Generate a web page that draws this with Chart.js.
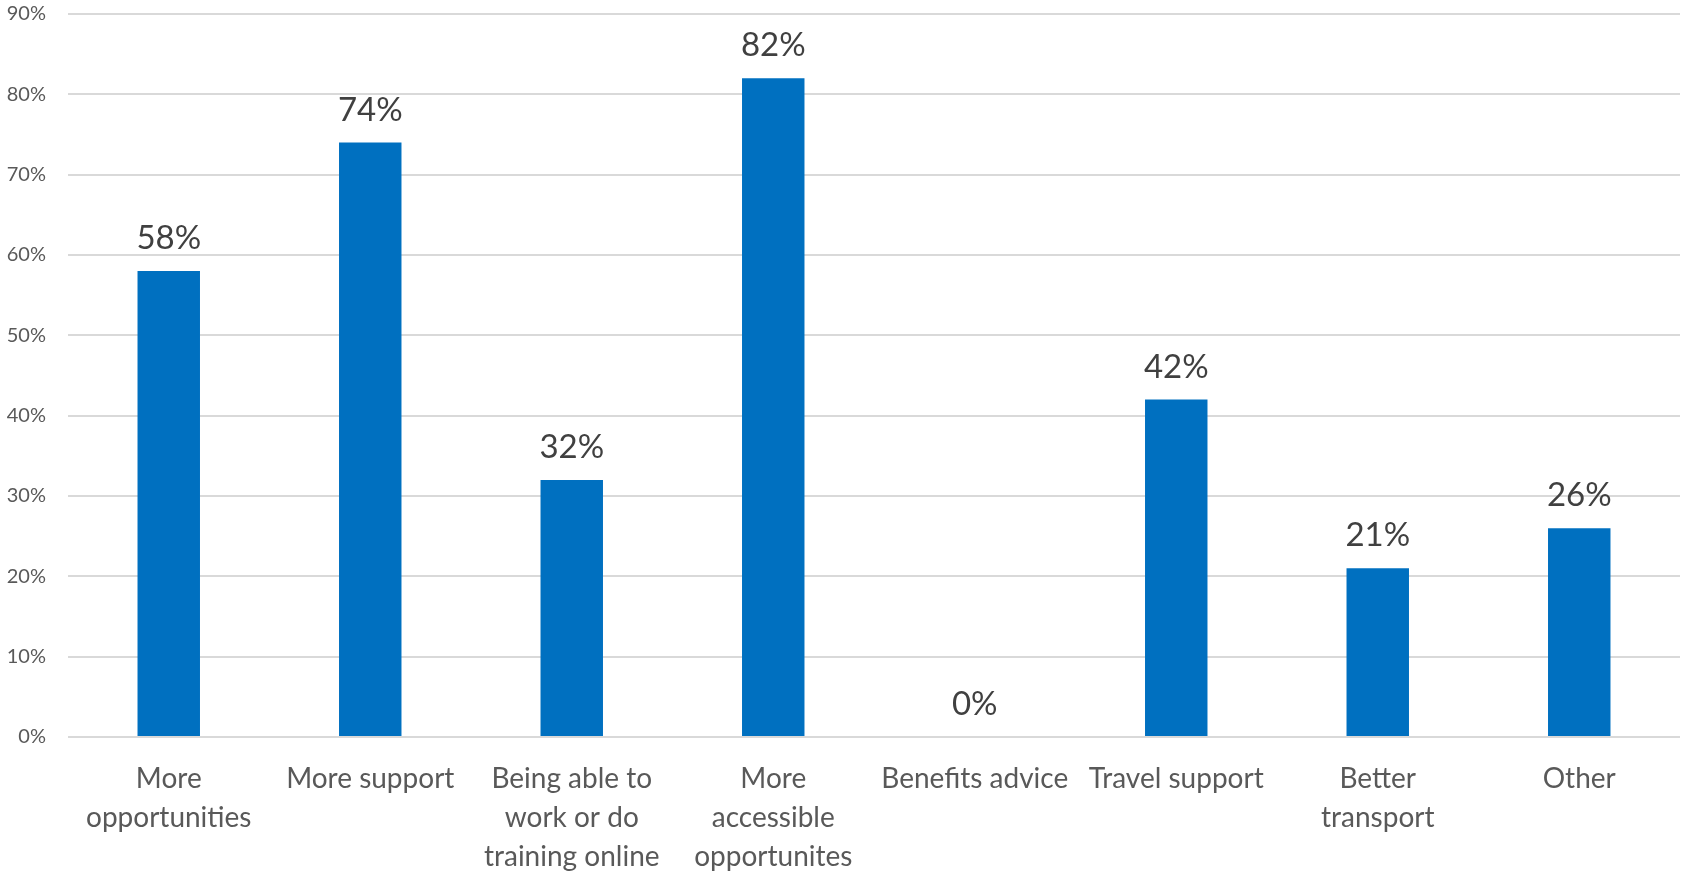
<!DOCTYPE html>
<html>
<head>
<meta charset="utf-8">
<script src="https://cdn.jsdelivr.net/npm/chart.js@4.4.1/dist/chart.umd.min.js"></script>
<style>
  html, body { margin: 0; padding: 0; background: #fff; }
  #wrap { width: 1684px; height: 871px; }
</style>
</head>
<body>
<div id="wrap"><canvas id="supportChart" width="1684" height="871"></canvas></div>
<script>
const categories = [
    ['More', 'opportunities'],
    ['More support'],
    ['Being able to', 'work or do', 'training online'],
    ['More', 'accessible', 'opportunites'],
    ['Benefits advice'],
    ['Travel support'],
    ['Better', 'transport'],
    ['Other']
];
const percentages = [58, 74, 32, 82, 0, 42, 21, 26];
const yTicks = [0, 10, 20, 30, 40, 50, 60, 70, 80, 90];

const FONT = 'Lato, "Open Sans", sans-serif';

// value labels above each bar
const barValueLabels = {
    id: 'barValueLabels',
    afterDatasetsDraw(chart) {
        const ctx = chart.ctx;
        const meta = chart.getDatasetMeta(0);
        ctx.save();
        ctx.font = '33px ' + FONT;
        ctx.fillStyle = '#404040';
        ctx.textAlign = 'center';
        ctx.textBaseline = 'alphabetic';
        meta.data.forEach((bar, i) => {
            ctx.fillText(percentages[i] + '%', bar.x, bar.y - 22);
        });
        ctx.restore();
    }
};

const ctx = document.getElementById('supportChart').getContext('2d');
new Chart(ctx, {
    type: 'bar',
    data: {
        labels: categories,
        datasets: [{
            data: percentages,
            backgroundColor: '#0070C0',
            barPercentage: 0.31,
            categoryPercentage: 1
        }]
    },
    options: {
        responsive: false,
        animation: false,
        layout: { padding: { top: 14, right: 4, left: 0, bottom: 0 } },
        plugins: {
            legend: { display: false },
            tooltip: { enabled: false }
        },
        scales: {
            x: {
                grid: { display: false, drawTicks: false },
                border: { display: false },
                ticks: {
                    autoSkip: false,
                    maxRotation: 0,
                    minRotation: 0,
                    padding: 23,
                    color: '#595959',
                    font: { family: FONT, size: 28, lineHeight: 1.39 }
                },
                afterFit(scale) {
                    scale.height = 134;
                    scale.paddingLeft = 0;
                    scale.paddingRight = 0;
                }
            },
            y: {
                min: 0,
                max: 90,
                afterBuildTicks(scale) {
                    scale.ticks = yTicks.map(v => ({ value: v }));
                },
                grid: { color: '#d9d9d9', lineWidth: 2, drawTicks: false },
                border: { display: false },
                ticks: {
                    padding: 22,
                    color: '#595959',
                    font: { family: FONT, size: 20 },
                    callback: v => v + '%'
                },
                afterFit(scale) {
                    scale.width = 68;
                    scale.paddingTop = 0;
                    scale.paddingBottom = 0;
                }
            }
        }
    },
    plugins: [barValueLabels]
});
</script>
</body>
</html>
